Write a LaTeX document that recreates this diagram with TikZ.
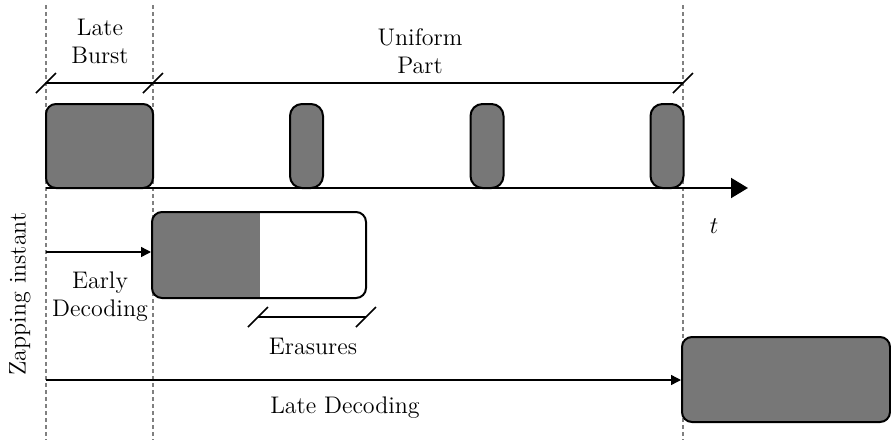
\documentclass[tikz,border=0pt]{standalone}
\usetikzlibrary{arrows.meta}
\definecolor{burstgray}{HTML}{777777}
\definecolor{guidegray}{HTML}{808080}
\begin{document}
\begin{tikzpicture}[x=0.5pt,y=-0.5pt,font=\fontsize{12}{14}\selectfont,
  guide/.style={draw=guidegray,line width=0.6pt,dash pattern=on 2pt off 1.5pt},
  burst/.style={draw=black,fill=burstgray,line width=1pt,rounded corners=5pt,inner sep=0pt},
  dimline/.style={draw=black,line width=0.8pt},
  conn/.style={draw=black,line width=0.7pt,-{Triangle[length=5pt,width=5pt]}},
  lbl/.style={align=center,inner sep=1pt}]
\useasboundingbox (0,0) rectangle (891,440);
% guide lines
\coordinate (g1t) at (46,5);   \coordinate (g1b) at (46,440);
\coordinate (g2t) at (153,5);  \coordinate (g2b) at (153,440);
\coordinate (g3t) at (683,5);  \coordinate (g3b) at (683,440);
\draw[guide] (g1t) -- (g1b);
\draw[guide] (g2t) -- (g2b);
\draw[guide] (g3t) -- (g3b);
% top dimension line
\coordinate (d1) at (46,83); \coordinate (d2) at (153,83); \coordinate (d3) at (683,83);
\draw[dimline] (d1) -- (d3);
\foreach \c in {d1,d2,d3}{\draw[dimline] ([shift={(-10,10)}]\c) -- ([shift={(10,-10)}]\c);}
\node[lbl] (lateburst) at (100,41) {Late\\Burst};
\node[lbl] (uniform) at (420,51) {Uniform\\Part};
% bursts
\node[burst,minimum width=53.5pt,minimum height=42pt] (b0) at (99.5,146) {};
\node[burst,minimum width=16.5pt,minimum height=42pt,rounded corners=6pt] (b1) at (306.5,146) {};
\node[burst,minimum width=16.5pt,minimum height=42pt,rounded corners=6pt] (b2) at (487,146) {};
\node[burst,minimum width=16.5pt,minimum height=42pt,rounded corners=6pt] (b3) at (667,146) {};
% time axis
\coordinate (ax0) at (46,188); \coordinate (ax1) at (748,188);
\draw[line width=1pt,-{Triangle[length=8.5pt,width=10pt]}] (ax0) -- (ax1);
\node (t) at (714,226) {$t$};
% early decoding
\node[draw=black,line width=1pt,rounded corners=5pt,inner sep=0pt,minimum width=107pt,minimum height=43pt,
  path picture={\fill[burstgray,sharp corners] (path picture bounding box.south west) rectangle ([xshift=-53pt]path picture bounding box.north east);}] (early) at (259,255) {};
\coordinate (zap1) at (46,252);
\draw[conn] (zap1) -- (zap1 -| early.west);
\node[lbl] (earlylbl) at (100,297) {Early\\Decoding};
% erasures
\coordinate (e1) at (258,317); \coordinate (e2) at (366,317);
\draw[dimline] (e1) -- (e2);
\foreach \c in {e1,e2}{\draw[dimline] ([shift={(-10,10)}]\c) -- ([shift={(10,-10)}]\c);}
\node[lbl] (eras) at (313,346) {Erasures};
% late decoding
\node[burst,minimum width=104pt,minimum height=42.5pt] (late) at (786,379.5) {};
\coordinate (zap2) at (46,380);
\draw[conn] (zap2) -- (zap2 -| late.west);
\node[lbl] (latelbl) at (345,408) {Late Decoding};
% zapping instant
\node[lbl,rotate=90] (zap) at (20,294) {Zapping instant};
\end{tikzpicture}
\end{document}
